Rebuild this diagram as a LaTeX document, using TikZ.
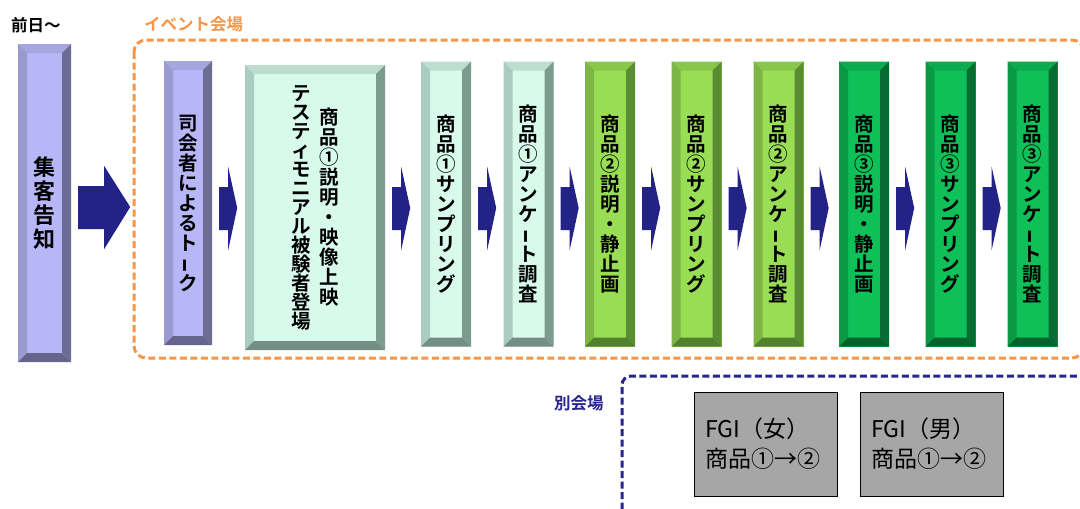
\documentclass[tikz,border=0pt]{standalone}
\usepackage{fontspec}
\usepackage{graphicx}
\newfontfamily\jp{Noto Sans CJK JP}[BoldFont={Noto Sans CJK JP Bold}]
\usetikzlibrary{calc}
\definecolor{lavF}{HTML}{B7B7F7}
\definecolor{lavT}{HTML}{A6A6DE}
\definecolor{lavL}{HTML}{9A9AD0}
\definecolor{lavR}{HTML}{6C6C94}
\definecolor{lavB}{HTML}{64648C}
\definecolor{mintF}{HTML}{D8FAEC}
\definecolor{mintT}{HTML}{BCDDD0}
\definecolor{mintL}{HTML}{AACBBF}
\definecolor{mintR}{HTML}{7D9A8F}
\definecolor{mintB}{HTML}{738E84}
\definecolor{lgF}{HTML}{99DD55}
\definecolor{lgT}{HTML}{88C74B}
\definecolor{lgL}{HTML}{7DB646}
\definecolor{lgR}{HTML}{5A8C33}
\definecolor{lgB}{HTML}{52812E}
\definecolor{gF}{HTML}{0FBF58}
\definecolor{gT}{HTML}{0DAA4E}
\definecolor{gL}{HTML}{0A9A46}
\definecolor{gR}{HTML}{066C32}
\definecolor{gB}{HTML}{05622D}
\definecolor{arrowblue}{HTML}{232387}
\definecolor{evorange}{HTML}{F79646}
\definecolor{subblue}{HTML}{26268C}
\definecolor{fgigray}{HTML}{A6A6A6}
\newcommand\tate[1]{$\vcenter{\let\\\cr\lineskiplimit=-100pt\lineskip=0pt\halign{\hfil##\hfil\cr#1\crcr}}$}
\newcommand\chon{\rotatebox[origin=c]{90}{\scalebox{0.7}[1]{ー}}}
\newcommand\sarr[1]{%
  \path ([xshift=7pt]#1.east) coordinate (tmpA);
  \fill[arrowblue] (tmpA |- 0,187) -- ++(9,0) -- ++(0,-20) -- ++(9,41) -- ++(-9,42) -- ++(0,-20) -- ++(-9,0) -- cycle;
}
\tikzset{
  bevbox/.style n args={5}{fill=#1, draw=none, inner sep=0pt,
    font=\jp\bfseries\fontsize{19.5}{20}\selectfont, text=black,
    path picture={
      \coordinate (pNW) at (path picture bounding box.north west);
      \coordinate (pNE) at (path picture bounding box.north east);
      \coordinate (pSW) at (path picture bounding box.south west);
      \coordinate (pSE) at (path picture bounding box.south east);
      \fill[#2] (pNW) -- (pNE) -- ([shift={(-9pt,-9pt)}]pNE) -- ([shift={(9pt,-9pt)}]pNW) -- cycle;
      \fill[#3] (pNW) -- ([shift={(9pt,-9pt)}]pNW) -- ([shift={(9pt,9pt)}]pSW) -- (pSW) -- cycle;
      \fill[#4] (pNE) -- ([shift={(-9pt,-9pt)}]pNE) -- ([shift={(-9pt,9pt)}]pSE) -- (pSE) -- cycle;
      \fill[#5] (pSW) -- (pSE) -- ([shift={(-9pt,9pt)}]pSE) -- ([shift={(9pt,9pt)}]pSW) -- cycle;
    }},
  lavbox/.style={bevbox={lavF}{lavT}{lavL}{lavR}{lavB}},
  mintbox/.style={bevbox={mintF}{mintT}{mintL}{mintR}{mintB}},
  lgbox/.style={bevbox={lgF}{lgT}{lgL}{lgR}{lgB}},
  gbox/.style={bevbox={gF}{gT}{gL}{gR}{gB}},
  narrow/.style={minimum width=50pt, minimum height=285pt},
  fgibox/.style={fill=fgigray, draw=black, line width=0.8pt, minimum width=143pt, minimum height=104pt,
    inner xsep=11pt, text width=121pt, align=left, font=\jp\fontsize{23}{30}\selectfont},
  lbl/.style={font=\jp\bfseries\fontsize{16.5}{18}\selectfont, anchor=west, inner sep=0pt},
}
\begin{document}
\begin{tikzpicture}[x=1pt, y=-1pt]
\clip (0,0) rectangle (1080,509);
\fill[white] (0,0) rectangle (1080,509);
% labels
\node[lbl] (pre) at (11,25) {前日～};
\node[lbl, text=evorange] (ev) at (144,24) {イベント会場};
\node[lbl, text=subblue] (sub) at (554,403) {別会場};
% venue frames
\draw[evorange, line width=3pt, dash pattern=on 7pt off 3.5pt, rounded corners=12pt] (134,40) rectangle (1084,358);
\draw[subblue, line width=3pt, dash pattern=on 7pt off 3.5pt, rounded corners=9pt] (622,520) -- (622,376) -- (1095,376);
% boxes
\node[lavbox, minimum width=53pt, minimum height=318pt, font=\jp\bfseries\fontsize{22}{24}\selectfont] (b0) at (44.5,203) {\tate{集\\客\\告\\知}};
\node[lavbox, minimum width=48pt, minimum height=284pt] (b1) at (188,203) {\tate{司\\会\\者\\に\\よ\\る\\ト\\\chon\\ク}};
\node[mintbox, minimum width=140pt, minimum height=285pt] (b2) at (315,207.5) {{\fontsize{19.5}{19}\selectfont\tate{テ\\ス\\テ\\ィ\\モ\\ニ\\ア\\ル\\被\\験\\者\\登\\場}}\hspace{8pt}\tate{商\\品\\①\\説\\明\\・\\映\\像\\上\\映}};
\node[mintbox, narrow] (b3) at (446,204) {\tate{商\\品\\①\\サ\\ン\\プ\\リ\\ン\\グ}};
\node[mintbox, narrow] (b4) at (528.5,204) {\tate{商\\品\\①\\ア\\ン\\ケ\\\chon\\ト\\調\\査}};
\node[lgbox, narrow] (b5) at (610,204) {\tate{商\\品\\②\\説\\明\\・\\静\\止\\画}};
\node[lgbox, narrow] (b6) at (696.5,204) {\tate{商\\品\\②\\サ\\ン\\プ\\リ\\ン\\グ}};
\node[lgbox, narrow] (b7) at (778.5,204) {\tate{商\\品\\②\\ア\\ン\\ケ\\\chon\\ト\\調\\査}};
\node[gbox, narrow] (b8) at (864,204) {\tate{商\\品\\③\\説\\明\\・\\静\\止\\画}};
\node[gbox, narrow] (b9) at (950.5,204) {\tate{商\\品\\③\\サ\\ン\\プ\\リ\\ン\\グ}};
\node[gbox, narrow] (b10) at (1032.5,204) {\tate{商\\品\\③\\ア\\ン\\ケ\\\chon\\ト\\調\\査}};
% big arrow
\path ([xshift=7pt]b0.east) coordinate (bigA);
\fill[arrowblue] (bigA |- 0,186) -- ++(26,0) -- ++(0,-20) -- ++(26,41) -- ++(-26,42) -- ++(0,-20) -- ++(-26,0) -- cycle;
% small arrows
\sarr{b1}
\sarr{b2}
\sarr{b3}
\sarr{b4}
\sarr{b5}
\sarr{b6}
\sarr{b7}
\sarr{b8}
\sarr{b9}
% FGI boxes
\node[fgibox] (g1) at (765.5,444) {FGI（女）\\商品①→②};
\node[fgibox] (g2) at (932,444) {FGI（男）\\商品①→②};
\end{tikzpicture}
\end{document}
